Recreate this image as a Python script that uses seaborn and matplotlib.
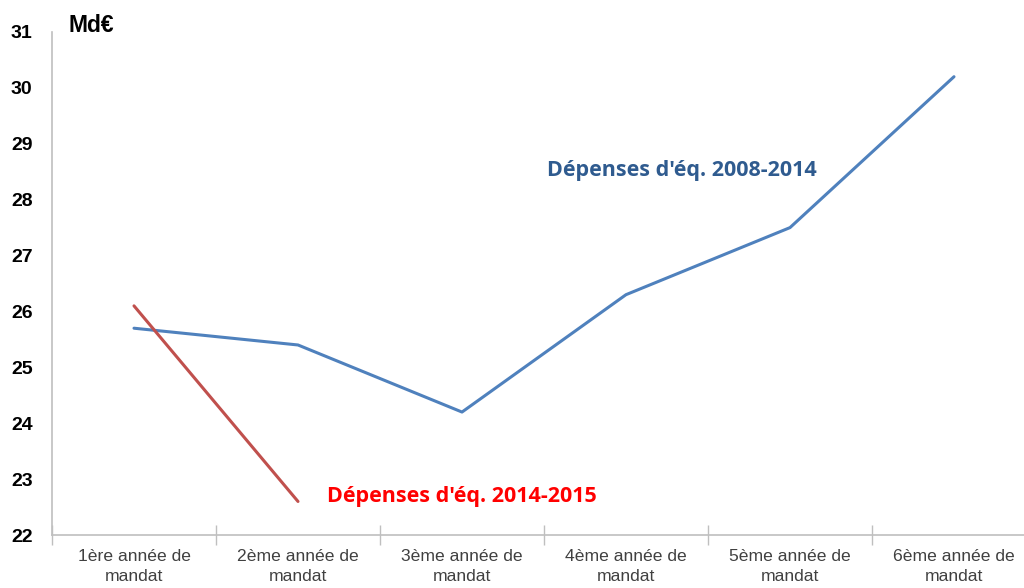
import matplotlib.pyplot as plt
import pandas as pd
import seaborn as sns

# Data
mandats = ["1ère année de\nmandat", "2ème année de\nmandat", "3ème année de\nmandat",
           "4ème année de\nmandat", "5ème année de\nmandat", "6ème année de\nmandat"]
dep_2008_2014 = [25.7, 25.4, 24.2, 26.3, 27.5, 30.2]
dep_2014_2015 = [26.1, 22.6]

sns.set_theme(style="white")
plt.rcParams['font.family'] = ['Liberation Sans', 'DejaVu Sans']

fig = plt.figure(figsize=(10.24, 5.88), dpi=100)
ax = fig.add_axes([52 / 1024, 53 / 588, 984 / 1024, 503 / 588])

df_blue = pd.DataFrame({'x': range(len(dep_2008_2014)), 'y': dep_2008_2014})
df_red = pd.DataFrame({'x': range(len(dep_2014_2015)), 'y': dep_2014_2015})

sns.lineplot(data=df_blue, x='x', y='y', ax=ax, color='#4F81BD', linewidth=2.2)
sns.lineplot(data=df_red, x='x', y='y', ax=ax, color='#C0504D', linewidth=2.2)

ax.set_xlim(-0.5, 5.5)
ax.set_ylim(22, 31)
ax.set_yticks(range(22, 32))
ax.set_yticklabels([str(v) for v in range(22, 32)], fontsize=14, fontweight='bold', color='black')
ax.set_xticks(range(len(mandats)))
ax.set_xticklabels(mandats, fontsize=12.6, color='#404040', linespacing=1.4)
ax.set_xticks([i - 0.5 for i in range(len(mandats) + 1)], minor=True)
ax.tick_params(axis='x', which='major', length=0, pad=10)
ax.tick_params(axis='x', which='minor', bottom=True, direction='inout', length=14, width=1, color='#BFBFBF')
ax.tick_params(axis='y', length=0, pad=14)
ax.set_xlabel('')
ax.set_ylabel('')

for side in ['top', 'right']:
    ax.spines[side].set_visible(False)
for side in ['left', 'bottom']:
    ax.spines[side].set_color('#BFBFBF')
    ax.spines[side].set_linewidth(1.2)

# annotations
fig.text(68 / 1024, 1 - 25 / 588, 'Md€', fontsize=16.5, fontweight='bold', va='center', ha='left', color='black')
ax.text(3.34, 28.53, "Dépenses d'éq. 2008-2014", fontsize=15.5, fontweight='bold',
        color='#2F5B8F', family=['Open Sans', 'DejaVu Sans'], va='center', ha='center')
ax.text(2.0, 22.68, "Dépenses d'éq. 2014-2015", fontsize=15.5, fontweight='bold',
        color='#FF0000', family=['Open Sans', 'DejaVu Sans'], va='center', ha='center')

plt.savefig('out.png', dpi=100)
